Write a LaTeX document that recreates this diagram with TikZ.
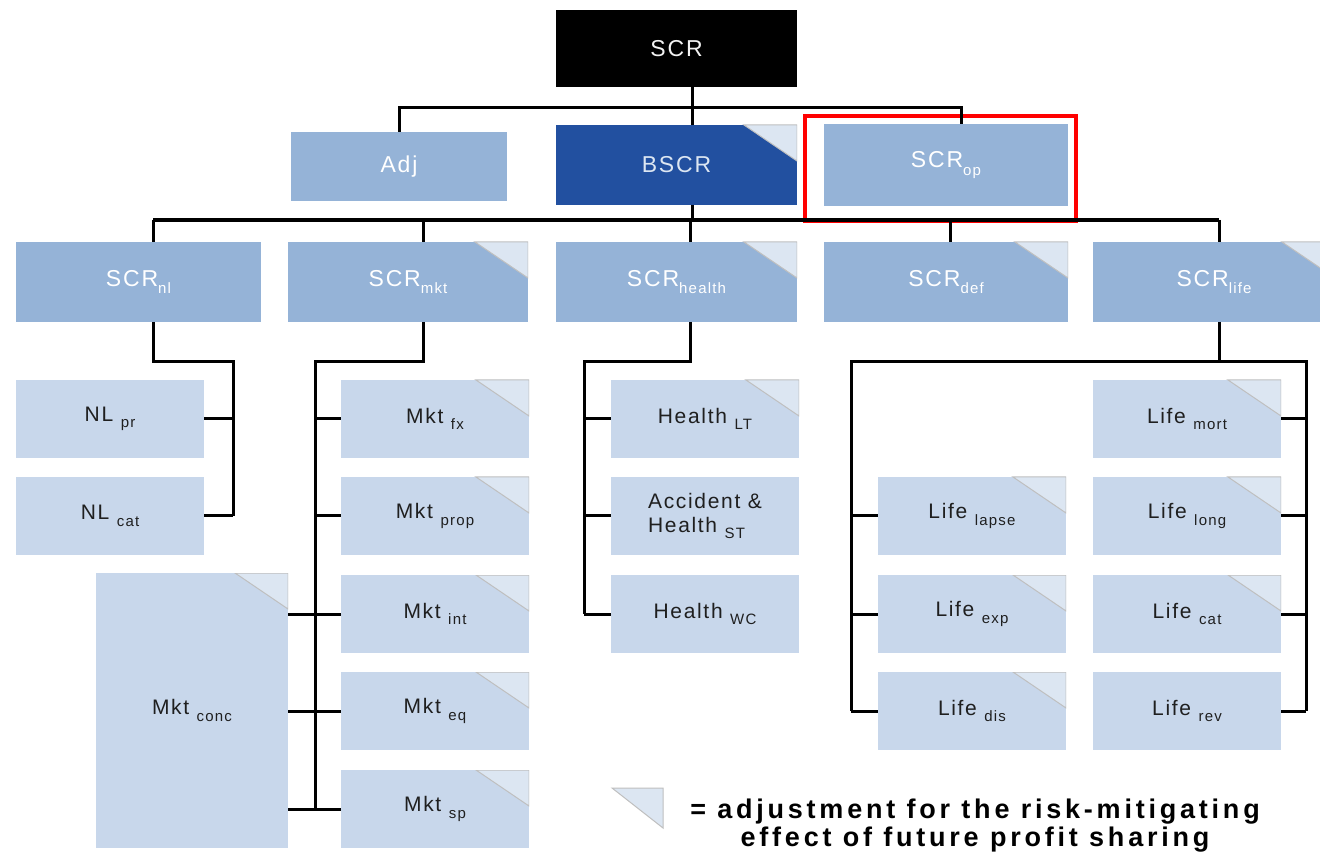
\documentclass[tikz,border=0pt]{standalone}
\usepackage{fontspec}
\setmainfont{Liberation Sans}[LetterSpace=8]
\usepackage{tikz}
\usepackage{xcolor}

\definecolor{midblue}{HTML}{95B3D7}
\definecolor{darkblue}{HTML}{2250A0}
\definecolor{paleblue}{HTML}{C8D7EB}
\definecolor{foldblue}{HTML}{DCE6F2}
\definecolor{frame}{HTML}{FF0000}

\newcommand{\lowsub}[1]{\raisebox{-0.6ex}{\fontsize{7.5}{8}\selectfont #1}}

\begin{document}
\begin{tikzpicture}[
  x=0.5pt, y=-0.5pt,
  box/.style={anchor=north west, inner sep=2pt, outer sep=0pt, align=center},
  head/.style={box, fill=black, text=white!90!gray, minimum width=120.5pt, minimum height=38.5pt, font=\fontsize{11.5}{13}\selectfont},
  lvl/.style={box, fill=midblue, text=white, minimum height=40pt, font=\fontsize{11.5}{13}\selectfont},
  leaf/.style={box, fill=paleblue, text=black!88, minimum width=94pt, minimum height=39pt, font=\fontsize{10.5}{12}\selectfont},
  folded/.style={path picture={\filldraw[fill=foldblue, draw=gray!50, line width=0.5pt]
    (path picture bounding box.north east) -- ++(-26.5pt,0pt) -- ++(26.5pt,-18pt) -- cycle;}},
  link/.style={line width=1.5pt, black},
  bus/.style={line width=2pt, black}
]
\useasboundingbox (0,0) rectangle (1320,854);

% top
\node[head] (scr) at (556,10) {SCR};

% level 1
\node[lvl, minimum width=108pt, minimum height=34.5pt] (adj) at (291,132) {Adj};
\node[lvl, fill=darkblue, text=foldblue, minimum width=120.5pt, folded] (bscr) at (556,125) {BSCR};
\node[lvl, minimum width=122pt, minimum height=41pt] (scrop) at (824,124) {SCR\lowsub{op}};
\draw[frame, line width=2pt] (805,116) rectangle (1076,221);

% level 2
\node[lvl, minimum width=122.5pt] (nl) at (16,242) {SCR\lowsub{nl}};
\node[lvl, minimum width=120pt, folded] (mkt) at (288,242) {SCR\lowsub{mkt}};
\node[lvl, minimum width=120.5pt, folded] (health) at (556,242) {SCR\lowsub{health}};
\node[lvl, minimum width=122pt, folded] (def) at (824,242) {SCR\lowsub{def}};
\node[lvl, minimum width=121pt, folded] (life) at (1093,242) {SCR\lowsub{life}};

% non-life
\node[leaf] (nlpr) at (16,380) {NL \lowsub{pr}};
\node[leaf] (nlcat) at (16,477) {NL \lowsub{cat}};

% market
\node[leaf, folded] (mktfx) at (341,380) {Mkt \lowsub{fx}};
\node[leaf, folded] (mktprop) at (341,477) {Mkt \lowsub{prop}};
\node[leaf, folded] (mktint) at (341,575) {Mkt \lowsub{int}};
\node[leaf, folded] (mkteq) at (341,672) {Mkt \lowsub{eq}};
\node[leaf, folded] (mktsp) at (341,770) {Mkt \lowsub{sp}};
\node[leaf, folded, minimum width=96pt, minimum height=137.5pt] (mktconc) at (96,573) {Mkt \lowsub{conc}};

% health
\node[leaf, folded] (hlt) at (611,380) {Health \lowsub{LT}};
\node[leaf, align=left] (hst) at (611,477) {Accident \&\\Health \lowsub{ST}};
\node[leaf] (hwc) at (611,575) {Health \lowsub{WC}};

% life
\node[leaf, folded] (lifemort) at (1093,380) {Life \lowsub{mort}};
\node[leaf, folded] (lifelapse) at (878,477) {Life \lowsub{lapse}};
\node[leaf, folded] (lifelong) at (1093,477) {Life \lowsub{long}};
\node[leaf, folded] (lifeexp) at (878,575) {Life \lowsub{exp}};
\node[leaf, folded] (lifecat) at (1093,575) {Life \lowsub{cat}};
\node[leaf, folded] (lifedis) at (878,672) {Life \lowsub{dis}};
\node[leaf] (liferev) at (1093,672) {Life \lowsub{rev}};

% junctions
\coordinate (top) at (692,108);
\coordinate (opdrop) at (961,108);
\coordinate (bus) at (692,220);
\coordinate (dnl) at (153,220);
\coordinate (dmkt) at (423,220);
\coordinate (dhealth) at (690,220);
\coordinate (ddef) at (950,220);
\coordinate (dlife) at (1219,220);
\coordinate (nlbar) at (233,362);
\coordinate (mktbar) at (315,362);
\coordinate (hbar) at (584,362);
\coordinate (lbarl) at (851,362);
\coordinate (lbarr) at (1306,362);

% SCR to level 1
\draw[link] (scr.south -| top) -- (bscr.north -| top);
\draw[link] (adj.north) |- (opdrop) -- (opdrop |- scrop.north);

% BSCR to level 2
\draw[link] (bscr.south -| bus) -- (bus);
\draw[bus] (dnl) -- (dlife);
\foreach \n in {nl,mkt,health,def,life}
  \draw[link] (d\n) -- (d\n |- \n.north);

% level 2 to level 3
\draw[link] (dnl |- nl.south) |- (nlbar) -- (nlbar |- nlcat.east);
\foreach \n in {nlpr,nlcat}
  \draw[link] (\n.east) -- (\n.east -| nlbar);

\draw[link] (dmkt |- mkt.south) |- (mktbar) -- (mktbar |- mktsp.west);
\foreach \n in {mktfx,mktprop,mktint,mkteq,mktsp}
  \draw[link] (mktbar |- \n.west) -- (\n.west);
\foreach \n in {mktint,mkteq,mktsp}
  \draw[link] (mktconc.east |- \n.west) -- (mktbar |- \n.west);

\draw[link] (dhealth |- health.south) |- (hbar) -- (hbar |- hwc.west);
\foreach \n in {hlt,hst,hwc}
  \draw[link] (hbar |- \n.west) -- (\n.west);

\draw[link] (dlife |- life.south) -- (dlife |- lbarl);
\draw[link] (lbarl |- lifedis.west) -- (lbarl) -- (lbarr) -- (lbarr |- liferev.east);
\foreach \n in {lifelapse,lifeexp,lifedis}
  \draw[link] (lbarl |- \n.west) -- (\n.west);
\foreach \n in {lifemort,lifelong,lifecat,liferev}
  \draw[link] (\n.east) -- (\n.east -| lbarr);

% legend
\filldraw[fill=foldblue, draw=gray!50, line width=0.5pt] (612,788) -- (663,788) -- (663,828) -- cycle;
\node[align=center, font=\bfseries\fontsize{13.5}{14}\selectfont\addfontfeatures{LetterSpace=14}] (legend) at (975,826)
  {= adjustment for the risk-mitigating\\effect of future profit sharing};

\end{tikzpicture}
\end{document}
